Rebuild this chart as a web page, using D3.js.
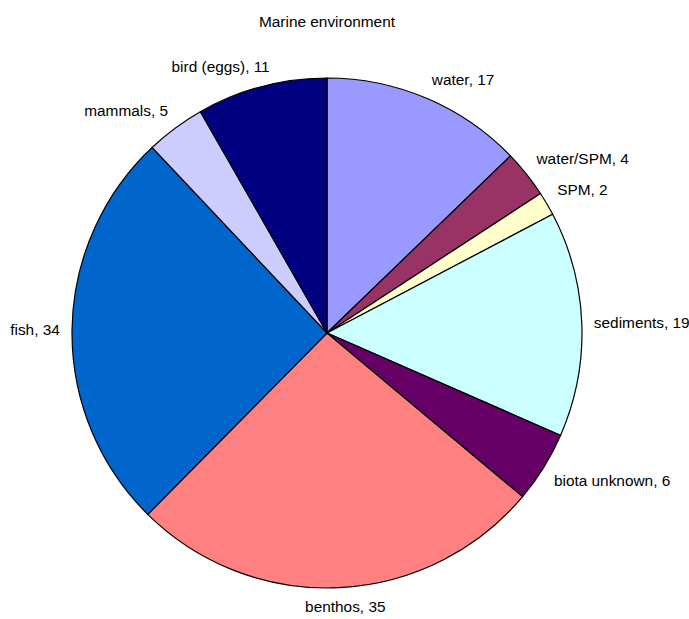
<!DOCTYPE html>
<html>
<head>
<meta charset="utf-8">
<script src="https://cdn.jsdelivr.net/npm/d3@7"></script>
<style>
  body { margin: 0; background: #fff; }
  text { font-family: "Liberation Sans", Arial, sans-serif; font-size: 15.4px; fill: #000; }
</style>
</head>
<body>
<div id="chart"></div>
<script>
// data
const categories = ["water", "water/SPM", "SPM", "sediments", "biota unknown", "benthos", "fish", "mammals", "bird (eggs)"];
const values = [17, 4, 2, 19, 6, 35, 34, 5, 11];
const colors = ["#9999FF", "#993366", "#FFFFCC", "#CCFFFF", "#660066", "#FF8080", "#0066CC", "#CCCCFF", "#000080"];
const title = "Marine environment";

const width = 689, height = 619;
const cx = 327, cy = 333, radius = 255;

const svg = d3.select("#chart")
    .append("svg")
    .attr("width", width)
    .attr("height", height);

svg.append("text")
    .attr("x", 327)
    .attr("y", 27)
    .attr("text-anchor", "middle")
    .text(title);

const data = categories.map((c, i) => ({ label: c, value: values[i], color: colors[i] }));

const pie = d3.pie()
    .value(d => d.value)
    .sort(null);

const arc = d3.arc()
    .innerRadius(0)
    .outerRadius(radius);

const g = svg.append("g")
    .attr("transform", `translate(${cx},${cy})`);

const arcs = pie(data);

g.selectAll("path")
    .data(arcs)
    .join("path")
    .attr("d", arc)
    .attr("fill", d => d.data.color)
    .attr("stroke", "#000")
    .attr("stroke-width", 1.2);

// labels outside end, box pushed away from the pie
const clamp = v => Math.max(-1, Math.min(1, v));
const labelR = radius + 12;

const labels = g.selectAll("text.lbl")
    .data(arcs)
    .join("text")
    .attr("class", "lbl")
    .attr("text-anchor", "middle")
    .text(d => d.data.label + ", " + d.data.value);

labels.each(function(d) {
    const a = (d.startAngle + d.endAngle) / 2;
    const px = labelR * Math.sin(a);
    const py = -labelR * Math.cos(a);
    const bb = this.getBBox();
    const w = bb.width, h = 15;
    const x = px + (w / 2) * clamp(3 * Math.sin(a));
    const y = py - (h / 2) * clamp(3 * Math.cos(a));
    d3.select(this)
        .attr("x", x)
        .attr("y", y + 5);
});
</script>
</body>
</html>
